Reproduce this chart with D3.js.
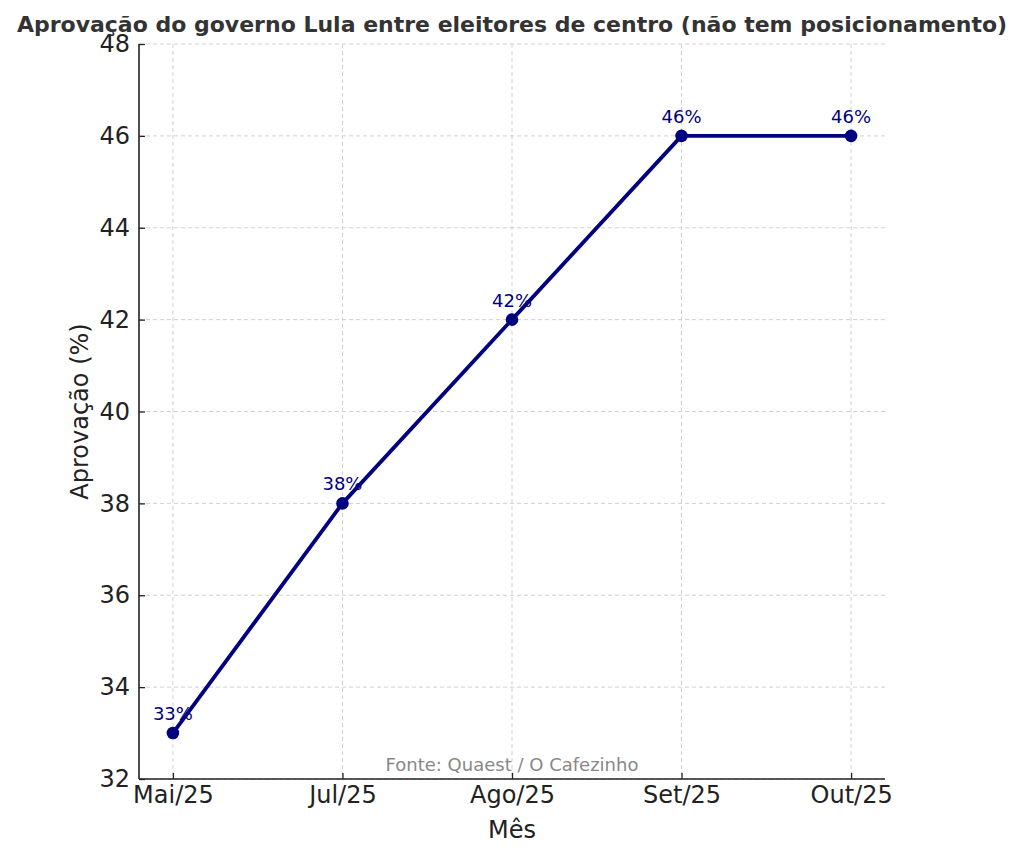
<!DOCTYPE html>
<html><head><meta charset="utf-8">
<script src="https://cdn.jsdelivr.net/npm/d3@7"></script>
<style>body{margin:0;background:#fff}svg{display:block}text{font-family:"DejaVu Sans",sans-serif}</style>
</head><body><svg id="c" width="1024" height="857"></svg>
<script>
const months = ["Mai/25","Jul/25","Ago/25","Set/25","Out/25"];
const approval = [33,38,42,46,46];
const yTicks = [32,34,36,38,40,42,44,46,48];
const title = "Aprovação do governo Lula entre eleitores de centro (não tem posicionamento)";
const source = "Fonte: Quaest / O Cafezinho";

const svg = d3.select("#c");
const L=139,R=885,T=44,B=779;
const x = d3.scalePoint().domain(months).range([L,R]).padding(0.2);
const y = d3.scaleLinear().domain([32,48]).range([B,T]);

// grid
const g = svg.append("g");
g.selectAll("line.h").data(yTicks).join("line")
 .attr("x1",L).attr("x2",R).attr("y1",d=>y(d)).attr("y2",d=>y(d))
 .attr("stroke","#d0d0d0").attr("stroke-width",1).attr("stroke-dasharray","4,3");
g.selectAll("line.v").data(months).join("line")
 .attr("x1",d=>x(d)).attr("x2",d=>x(d)).attr("y1",T).attr("y2",B)
 .attr("stroke","#d0d0d0").attr("stroke-width",1).attr("stroke-dasharray","4,3");

// axes
const ax = svg.append("g").attr("transform",`translate(0,${B})`)
 .call(d3.axisBottom(x).tickSizeInner(-6).tickSizeOuter(0).tickPadding(7));
const ay = svg.append("g").attr("transform",`translate(${L},0)`)
 .call(d3.axisLeft(y).tickValues(yTicks).tickSizeInner(-6).tickSizeOuter(0).tickPadding(9));
[ax,ay].forEach(a=>{
  a.select(".domain").attr("stroke","#222").attr("stroke-width",1.6);
  a.selectAll(".tick line").attr("stroke","#222").attr("stroke-width",1.3);
  a.selectAll(".tick text").attr("fill","#222").style("font-size","24px").style("font-family","DejaVu Sans");
});
ax.select(".domain").attr("d",`M${L},0H${R}`);
ay.select(".domain").attr("d",`M0,${B}V${T}`);

// line
const data = months.map((m,i)=>({m,v:approval[i]}));
svg.append("path").datum(data)
 .attr("fill","none").attr("stroke","#000080").attr("stroke-width",3.8).attr("stroke-linejoin","round")
 .attr("d",d3.line().x(d=>x(d.m)).y(d=>y(d.v)));
svg.selectAll("circle.pt").data(data).join("circle")
 .attr("cx",d=>x(d.m)).attr("cy",d=>y(d.v)).attr("r",6.3).attr("fill","#000080");
svg.selectAll("text.lbl").data(data).join("text")
 .attr("x",d=>x(d.m)).attr("y",d=>y(d.v)-13).attr("text-anchor","middle")
 .attr("fill","#000080").style("font-size","18px").text(d=>d.v+"%");

// texts
svg.append("text").attr("x",512).attr("y",32).attr("text-anchor","middle")
 .attr("fill","#333").style("font-size","22px").style("font-weight","bold").text(title);
svg.append("text").attr("x",512).attr("y",838).attr("text-anchor","middle")
 .attr("fill","#222").style("font-size","24px").text("Mês");
svg.append("text").attr("transform",`translate(88,${(T+B)/2}) rotate(-90)`).attr("text-anchor","middle")
 .attr("fill","#222").style("font-size","24px").text("Aprovação (%)");
svg.append("text").attr("x",512).attr("y",771).attr("text-anchor","middle")
 .attr("fill","#888").style("font-size","18px").text(source);
</script></body></html>
